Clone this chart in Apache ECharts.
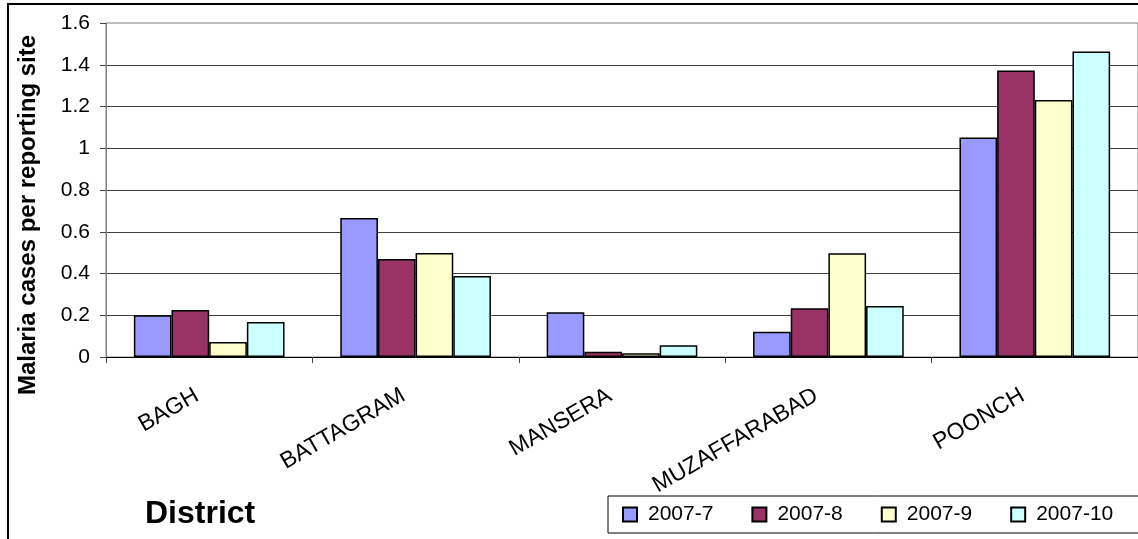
<!DOCTYPE html>
<html>
<head>
<meta charset="utf-8">
<title>Malaria cases per reporting site</title>
<script src="https://cdn.jsdelivr.net/npm/echarts@6/dist/echarts.min.js"></script>
<style>
  html, body { margin: 0; padding: 0; background: #fff; }
  #chart { width: 1138px; height: 539px; }
</style>
</head>
<body>
<div id="chart"></div>
<script>
const districts = ['BAGH', 'BATTAGRAM', 'MANSERA', 'MUZAFFARABAD', 'POONCH'];
const months = ['2007-7', '2007-8', '2007-9', '2007-10'];
const cases2007_7 = [0.20, 0.666, 0.214, 0.121, 1.052];
const cases2007_8 = [0.225, 0.47, 0.025, 0.233, 1.372];
const cases2007_9 = [0.072, 0.498, 0.018, 0.497, 1.231];
const cases2007_10 = [0.168, 0.388, 0.056, 0.244, 1.464];
const yTicks = [0, 0.2, 0.4, 0.6, 0.8, 1, 1.2, 1.4, 1.6];

const colors = ['#9999FF', '#993366', '#FFFFCC', '#CCFFFF'];
const font = '"Liberation Sans", Arial, sans-serif';

const chart = echarts.init(document.getElementById('chart'));

const seriesData = [cases2007_7, cases2007_8, cases2007_9, cases2007_10];

const options = {
  animation: false,
  color: colors,
  textStyle: { fontFamily: font, color: '#000' },
  grid: {
    left: 106,
    top: 23,
    right: -10,
    bottom: 182,
    show: true,
    borderColor: '#808080',
    borderWidth: 1
  },
  legend: {
    data: months,
    left: 622,
    top: 504,
    padding: 0,
    itemGap: 38,
    itemWidth: 14,
    itemHeight: 14,
    icon: 'rect',
    textStyle: { fontSize: 21, fontFamily: font, color: '#000', padding: [0, 0, 0, 6] }
  },
  xAxis: {
    type: 'category',
    data: districts,
    axisLine: { lineStyle: { color: '#000', width: 1 } },
    axisTick: { show: true, length: 6, lineStyle: { color: '#404040' } },
    axisLabel: {
      rotate: 30,
      margin: 30,
      padding: [0, 14, 0, 0],
      fontSize: 23,
      fontFamily: font,
      color: '#000'
    }
  },
  yAxis: {
    type: 'value',
    min: 0,
    max: 1.6,
    interval: 0.2,
    axisLine: { show: true, lineStyle: { color: '#808080', width: 1 } },
    axisTick: { show: true, inside: false, length: 6, lineStyle: { color: '#404040' } },
    axisLabel: {
      margin: 16,
      fontSize: 21,
      fontFamily: font,
      color: '#000',
      formatter: v => (yTicks.includes(Math.round(v * 10) / 10) ? String(Math.round(v * 10) / 10) : '')
    },
    splitLine: { show: true, showMaxLine: false, lineStyle: { color: '#404040', width: 1 } }
  },
  series: seriesData.map((values, i) => ({
    name: months[i],
    type: 'bar',
    data: values,
    barGap: '0%',
    barCategoryGap: '27%',
    itemStyle: { color: colors[i], borderColor: '#000', borderWidth: 1.5 }
  })),
  graphic: [
    // outer chart border, clipped on the right and bottom like the source
    {
      type: 'rect',
      shape: { x: 8, y: 4, width: 1200, height: 600 },
      style: { fill: null, stroke: '#000', lineWidth: 2 },
      silent: true
    },
    // legend frame
    {
      type: 'rect',
      shape: { x: 608, y: 496, width: 600, height: 37 },
      style: { fill: null, stroke: '#000', lineWidth: 1 },
      silent: true
    },
    {
      type: 'text',
      x: 28,
      y: 215,
      rotation: Math.PI / 2,
      style: {
        text: 'Malaria cases per reporting site',
        font: 'bold 24px ' + font,
        fill: '#000',
        align: 'center',
        verticalAlign: 'middle'
      }
    },
    {
      type: 'text',
      x: 145,
      y: 514,
      style: {
        text: 'District',
        font: 'bold 32px ' + font,
        fill: '#000',
        align: 'left',
        verticalAlign: 'middle'
      }
    }
  ]
};

chart.setOption(options);
</script>
</body>
</html>
